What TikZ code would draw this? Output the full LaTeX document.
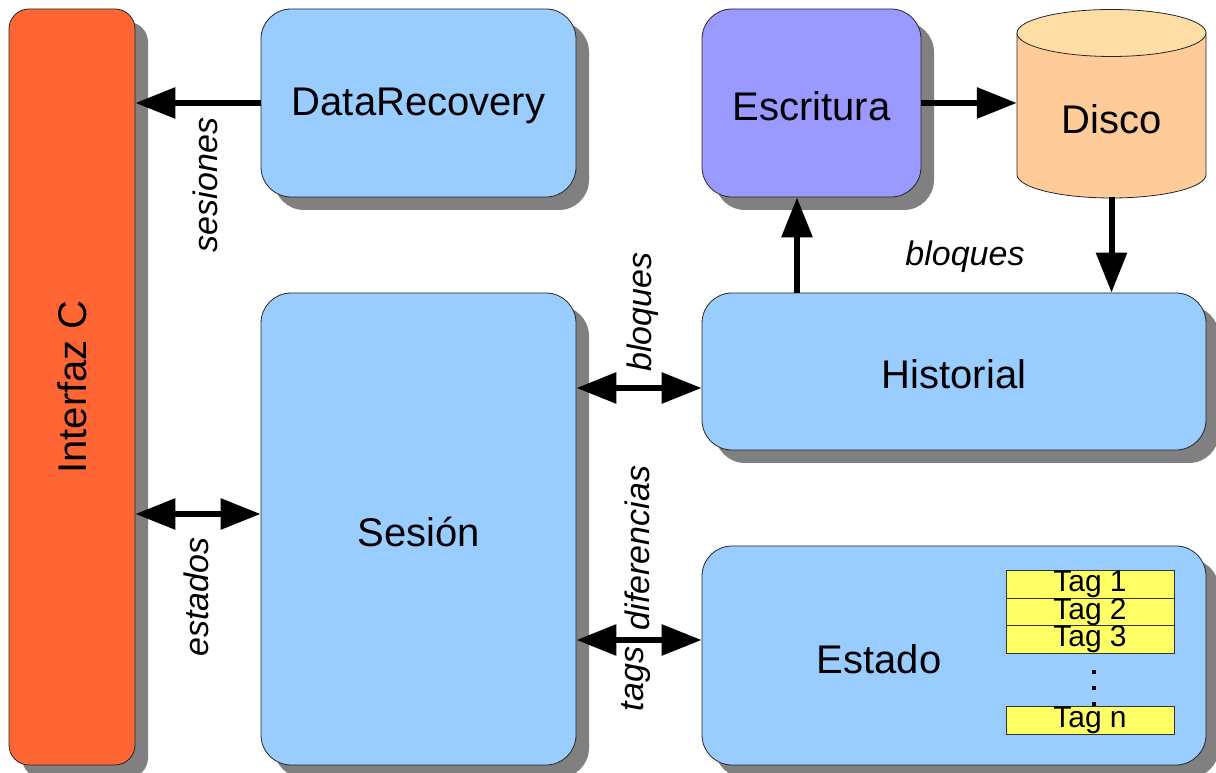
\documentclass[tikz,border=0pt]{standalone}
\usepackage{fontspec}
\setmainfont{Liberation Sans}
\usetikzlibrary{arrows.meta,shadows}
\definecolor{cOrange}{HTML}{FF6633}
\definecolor{cBlue}{HTML}{99CCFF}
\definecolor{cPurple}{HTML}{9999FF}
\definecolor{cPeach}{HTML}{FFCC99}
\definecolor{cPeachTop}{HTML}{FFDEA6}
\definecolor{cYellow}{HTML}{FFFF66}
\definecolor{cShadow}{HTML}{808080}
\begin{document}
\begin{tikzpicture}[x=1pt,y=1pt,
  box/.style={draw=black!85, line width=0.8pt, rounded corners=30pt, inner sep=0pt,
    drop shadow={shadow xshift=13pt, shadow yshift=-13pt, fill=cShadow, opacity=1}},
  boxtext/.style={font=\fontsize{40}{46}\selectfont, inner sep=0pt},
  lbl/.style={font=\fontsize{34}{40}\selectfont\itshape, inner sep=0pt},
  tagbox/.style={draw=black!80, line width=0.8pt, fill=cYellow, minimum width=168pt, minimum height=28pt, inner sep=0pt, font=\fontsize{30}{30}\selectfont},
  arr/.style={line width=6pt, -{Triangle[length=40pt,width=30pt]}},
  darr/.style={line width=6pt, {Triangle[length=40pt,width=30pt]}-{Triangle[length=40pt,width=30pt]}},
  dot/.style={fill=black, inner sep=0pt, minimum size=4pt}
]
\useasboundingbox (0,0) rectangle (1216,773);

% boxes
\node[box, fill=cOrange, rounded corners=20pt, minimum width=126pt, minimum height=756pt] (interfaz) at (72,386) {};
\node[boxtext, rotate=90] (interfazt) at (72,386) {Interfaz C};

\node[box, fill=cBlue, minimum width=315pt, minimum height=188pt] (datarec) at (418.5,670) {};
\node[boxtext] (datarect) at (418.5,667) {DataRecovery};

\node[box, fill=cPurple, minimum width=219pt, minimum height=188pt] (escritura) at (811.5,670) {};
\node[boxtext] (escriturat) at (811.5,667) {Escritura};

\node[box, fill=cBlue, minimum width=315pt, minimum height=472pt] (sesion) at (418.5,244) {};
\node[boxtext] (siont) at (418.5,241) {Sesión};

\node[box, fill=cBlue, minimum width=504pt, minimum height=157pt] (historial) at (954,401.5) {};
\node[boxtext] (historialt) at (954,399) {Historial};

\node[box, fill=cBlue, minimum width=504pt, minimum height=219pt] (estado) at (954,117.5) {};
\node[boxtext] (estadot) at (879,114) {Estado};

% disco (cylinder)
\node[minimum width=189pt, minimum height=188pt, inner sep=0pt] (disco) at (1111.5,670) {};
\filldraw[fill=cPeach, draw=black!85, line width=0.8pt]
  (1017,740) -- (1017,598.5) arc[start angle=180, end angle=360, x radius=94.5pt, y radius=23.5pt] -- (1206,740) -- cycle;
\filldraw[fill=cPeachTop, draw=black!85, line width=0.8pt] (1111.5,740) ellipse [x radius=94.5pt, y radius=23.5pt];
\node[boxtext] (discot) at (1111.5,654) {Disco};

% tags
\node[tagbox] (tag1) at (1090,189) {Tag 1};
\node[tagbox] (tag2) at (1090,161) {Tag 2};
\node[tagbox] (tag3) at (1090,133.5) {Tag 3};
\node[tagbox] (tagn) at (1090,52.5) {Tag n};
\node[dot] (d1) at (1094,101) {};
\node[dot] (d2) at (1094,85) {};
\node[dot] (d3) at (1094,69) {};

% connectors
\draw[arr] (datarec.west) -- (datarec.west -| interfaz.east);
\draw[darr] (interfaz.east |- 0,259) -- (sesion.west |- 0,259);
\draw[darr] (sesion.east |- 0,385) -- (historial.west |- 0,385);
\draw[darr] (sesion.east |- 0,133) -- (estado.west |- 0,133);
\draw[arr] (historial.north -| 797,0) -- (escritura.south -| 797,0);
\draw[arr] (escritura.east) -- (disco.west);
\draw[arr] (disco.south) -- (disco.south |- historial.north);

% labels
\node[lbl, rotate=90] (lsesiones) at (205,588) {sesiones};
\node[lbl, rotate=90] (lestados) at (196,176) {estados};
\node[lbl, rotate=90] (lbloques) at (643,461) {bloques};
\node[lbl, rotate=90] (ldif) at (637,225) {diferencias};
\node[lbl, rotate=90] (ltags) at (636,94) {tags};
\node[lbl] (lbloques2) at (965,516) {bloques};
\end{tikzpicture}
\end{document}
